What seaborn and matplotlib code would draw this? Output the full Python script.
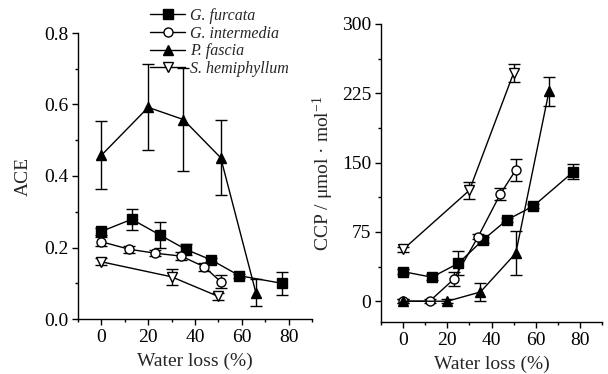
import numpy as np
import pandas as pd
import matplotlib
matplotlib.use("Agg")
import matplotlib.pyplot as plt
from matplotlib.lines import Line2D
from matplotlib.ticker import MultipleLocator
import seaborn as sns

# ---------------- data ----------------
species = ["G. furcata", "G. intermedia", "P. fascia", "S. hemiphyllum"]

# ACE panel
ace_x_gf = [0, 13, 25, 36, 47, 59, 77]
ace_y_gf = [0.245, 0.279, 0.235, 0.195, 0.165, 0.121, 0.100]
ace_e_gf = [0.010, 0.030, 0.035, 0.015, 0.006, 0.005, 0.032]

ace_x_gi = [0, 12, 23, 34, 44, 51]
ace_y_gi = [0.216, 0.195, 0.184, 0.176, 0.146, 0.104]
ace_e_gi = [0.012, 0.010, 0.008, 0.012, 0.012, 0.018]

ace_x_pf = [0, 20, 35, 51, 66]
ace_y_pf = [0.458, 0.592, 0.558, 0.451, 0.074]
ace_e_pf = [0.095, 0.120, 0.145, 0.105, 0.038]

ace_x_sh = [0, 30, 50]
ace_y_sh = [0.160, 0.118, 0.063]
ace_e_sh = [0.010, 0.022, 0.010]

# CCP panel
ccp_x_gf = [0, 13, 25, 36, 47, 59, 77]
ccp_y_gf = [32, 26, 41, 66, 88, 103, 140]
ccp_e_gf = [3, 3, 13, 3, 2, 2, 8]

ccp_x_gi = [0, 12, 23, 34, 44, 51]
ccp_y_gi = [0, 0, 24, 70, 116, 142]
ccp_e_gi = [2, 2, 8, 3, 6, 12]

ccp_x_pf = [0, 20, 35, 51, 66]
ccp_y_pf = [0, 0, 10, 52, 227]
ccp_e_pf = [2, 2, 10, 24, 16]

ccp_x_sh = [0, 30, 50]
ccp_y_sh = [56, 120, 247]
ccp_e_sh = [3, 9, 10]

# --------------- style ----------------
sns.set_theme(style="ticks")
plt.rcParams["font.family"] = ["Liberation Serif", "DejaVu Serif"]
plt.rcParams["mathtext.fontset"] = "custom"
plt.rcParams["mathtext.rm"] = "Liberation Serif"
plt.rcParams["mathtext.it"] = "Liberation Serif:italic"

markers = {"G. furcata": "s", "G. intermedia": "o", "P. fascia": "^", "S. hemiphyllum": "v"}
faces = {"G. furcata": "black", "G. intermedia": "white", "P. fascia": "black", "S. hemiphyllum": "white"}

FS = 14

def build(xs, ys, es):
    frames = []
    for sp, x, y, e in zip(species, xs, ys, es):
        frames.append(pd.DataFrame({"species": sp, "x": x, "y": y, "err": e}))
    return pd.concat(frames, ignore_index=True)

ace = build([ace_x_gf, ace_x_gi, ace_x_pf, ace_x_sh],
            [ace_y_gf, ace_y_gi, ace_y_pf, ace_y_sh],
            [ace_e_gf, ace_e_gi, ace_e_pf, ace_e_sh])
ccp = build([ccp_x_gf, ccp_x_gi, ccp_x_pf, ccp_x_sh],
            [ccp_y_gf, ccp_y_gi, ccp_y_pf, ccp_y_sh],
            [ccp_e_gf, ccp_e_gi, ccp_e_pf, ccp_e_sh])

fig = plt.figure(figsize=(6.08, 3.74), dpi=100)
ax1 = fig.add_axes([78/608, 1-319/374, (312-78)/608, (319-33)/374])
ax2 = fig.add_axes([381/608, 1-322/374, (602-381)/608, (322-24)/374])

def draw(ax, df):
    for sp in species:
        d = df[df.species == sp]
        ax.errorbar(d.x, d.y, yerr=d.err, fmt="none", ecolor="black",
                    elinewidth=1.0, capsize=4, capthick=1.0, zorder=2)
        sns.lineplot(data=d, x="x", y="y", ax=ax, color="black", lw=1.0,
                     marker=markers[sp], markersize=6.5, markerfacecolor=faces[sp],
                     markeredgecolor="black", markeredgewidth=1.0,
                     legend=False, zorder=3, estimator=None, sort=False)
    ax.set_xlim(-10, 90)
    ax.xaxis.set_major_locator(MultipleLocator(20))
    ax.xaxis.set_minor_locator(MultipleLocator(10))
    ax.set_xlabel("Water loss (%)", fontsize=FS, labelpad=5)
    sns.despine(ax=ax)
    for sp_ in ["left", "bottom"]:
        ax.spines[sp_].set_linewidth(1.0)
        ax.spines[sp_].set_color("black")
    ax.tick_params(which="major", direction="out", length=4, width=1, labelsize=FS,
                   color="black", labelcolor="black", pad=3)
    ax.tick_params(which="minor", direction="out", length=2.5, width=1, color="black")

draw(ax1, ace)
ax1.set_ylim(0, 0.8)
ax1.yaxis.set_major_locator(MultipleLocator(0.2))
ax1.yaxis.set_minor_locator(MultipleLocator(0.1))
ax1.yaxis.set_major_formatter(matplotlib.ticker.FormatStrFormatter("%.1f"))
ax1.set_ylabel("ACE", fontsize=FS, labelpad=9)

draw(ax2, ccp)
ax2.set_ylim(-22.5, 300)
ax2.set_yticks([0, 75, 150, 225, 300])
ax2.yaxis.set_minor_locator(matplotlib.ticker.FixedLocator([37.5, 112.5, 187.5, 262.5]))
ax2.spines["left"].set_bounds(-22.5, 300)
ax2.set_ylabel("CCP / μmol · mol$^{-1}$", fontsize=FS, labelpad=4)

handles = [Line2D([0], [0], color="black", lw=1.0, marker=markers[sp], markersize=6.5,
                  markerfacecolor=faces[sp], markeredgecolor="black") for sp in species]
leg = fig.legend(handles, species, loc="upper left", bbox_to_anchor=(150/608, 1-8/374),
                 frameon=False, fontsize=11.5, handlelength=2.2, handletextpad=0.3,
                 labelspacing=0.1, borderaxespad=0, borderpad=0)
for t in leg.get_texts():
    t.set_fontstyle("italic")

fig.savefig("out.png", dpi=100)
